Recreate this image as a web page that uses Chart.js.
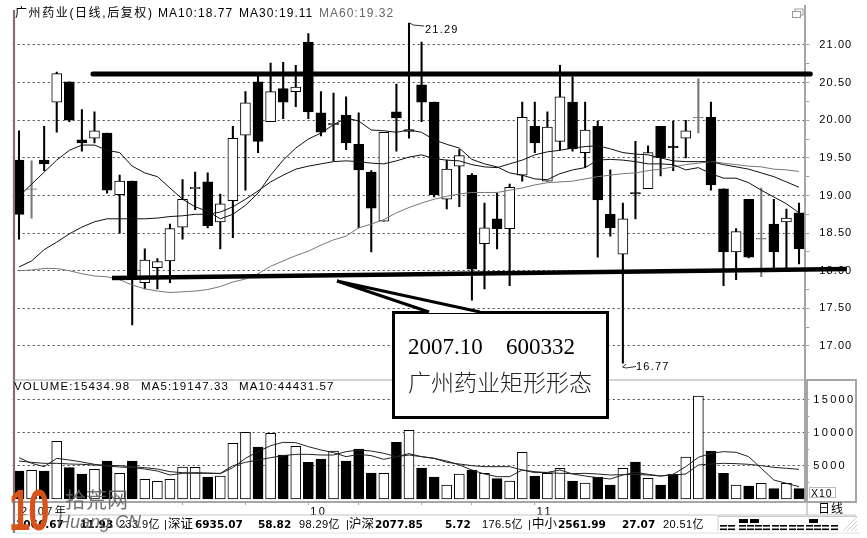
<!DOCTYPE html>
<html lang="zh">
<head>
<meta charset="utf-8">
<title>广州药业矩形形态</title>
<script src="https://cdn.jsdelivr.net/npm/chart.js@4"></script>
<style>
html,body{margin:0;padding:0;background:#fff;width:867px;height:538px;overflow:hidden}
#stage{position:relative;width:867px;height:538px;overflow:hidden;font-family:"Liberation Sans","Noto Sans CJK SC",sans-serif;color:#000}
canvas{position:absolute;left:0}
#priceChart{top:0}
#volumeChart{top:380px}
.t{position:absolute;white-space:pre;line-height:1;transform:translateY(-50%)}
svg{position:absolute;left:0;top:0}
</style>
</head>
<body>
<div id="stage">
<canvas id="priceChart" width="867" height="380"></canvas>
<canvas id="volumeChart" width="867" height="158"></canvas>
<svg id="overlay" width="867" height="538"></svg>
</div>
<script>
const opens  = [19.47,19.08,19.47,20.24,20.51,19.74,19.76,19.83,19.01,19.19,17.84,18.04,18.13,18.58,19.09,19.18,18.65,18.93,19.80,20.51,19.98,20.42,20.38,21.04,20.10,19.94,20.07,19.68,19.31,18.66,20.11,19.85,20.47,20.24,18.95,19.39,19.27,18.36,18.69,18.56,19.27,19.92,19.19,19.72,20.24,19.57,19.92,18.75,18.22,19.04,19.09,19.92,19.655,19.76,20.03,20.04,19.09,18.25,18.95,18.42,18.62,18.65,18.77];
const closes = [18.75,19.09,19.42,20.62,20.00,19.70,19.86,19.07,19.19,17.92,18.14,18.12,18.56,18.95,19.11,18.60,18.89,19.76,20.23,19.72,20.38,20.24,20.44,20.11,19.84,19.96,19.70,19.34,18.83,19.84,20.03,19.875,20.24,19.01,19.35,19.53,18.02,18.57,18.56,19.11,20.04,19.70,19.91,20.31,19.62,19.87,18.94,18.57,18.69,19.02,19.57,19.50,19.635,19.86,20.04,19.14,18.25,18.52,18.18,18.43,18.25,18.70,18.29];
const highs  = [19.86,19.46,19.92,20.64,20.51,20.14,20.11,19.83,19.27,19.19,18.29,18.16,18.62,19.21,19.31,19.30,19.02,19.92,20.38,20.59,20.76,20.77,20.73,21.15,20.38,20.36,20.31,20.10,19.33,19.84,20.48,21.29,21.04,20.24,19.47,19.61,19.29,18.90,19.03,19.15,20.24,20.24,20.11,20.73,20.58,20.24,19.99,19.34,18.90,19.72,19.66,19.92,19.99,20.00,20.55,20.24,19.09,18.56,18.95,19.10,18.95,18.82,18.90];
const lows   = [18.42,18.70,19.33,19.84,19.98,19.59,19.70,19.03,18.50,17.28,17.76,17.76,17.84,18.42,18.81,18.57,18.29,18.44,19.07,19.57,19.98,20.02,20.18,20.02,19.79,19.46,19.61,18.57,18.25,18.66,19.59,19.76,19.98,18.98,18.82,18.85,17.61,17.76,18.29,17.80,19.19,19.57,19.19,19.61,19.59,19.37,18.18,18.46,16.77,18.69,19.09,19.26,19.33,19.50,19.83,19.07,17.80,17.88,18.17,17.92,18.04,18.04,18.09];
const ma10   = [18.99,19.15,19.31,19.47,19.60,19.67,19.67,19.60,19.57,19.39,19.30,19.25,19.10,18.95,18.85,18.79,18.69,18.75,18.87,19.03,19.27,19.47,19.63,19.75,19.83,19.94,20.03,19.99,19.87,19.86,19.84,19.87,19.84,19.74,19.68,19.63,19.48,19.42,19.38,19.30,19.27,19.22,19.21,19.29,19.34,19.37,19.47,19.48,19.47,19.45,19.42,19.42,19.41,19.34,19.37,19.29,19.23,19.23,19.17,19.07,18.98,18.89,18.77];
const ma30   = [18.05,18.13,18.28,18.38,18.49,18.58,18.65,18.69,18.69,18.69,18.69,18.70,18.72,18.73,18.75,18.75,18.78,18.85,18.95,19.06,19.18,19.27,19.35,19.39,19.42,19.45,19.46,19.45,19.43,19.42,19.46,19.51,19.54,19.49,19.47,19.46,19.41,19.38,19.37,19.42,19.47,19.54,19.58,19.60,19.63,19.65,19.66,19.62,19.57,19.55,19.54,19.50,19.46,19.45,19.45,19.45,19.41,19.38,19.35,19.30,19.25,19.18,19.11];
const ma60   = [18.00,18.01,18.03,18.03,18.00,17.96,17.93,17.92,17.88,17.81,17.76,17.73,17.71,17.72,17.73,17.75,17.79,17.85,17.89,17.96,18.06,18.13,18.20,18.26,18.34,18.41,18.46,18.57,18.62,18.68,18.77,18.84,18.90,18.95,18.99,19.02,19.04,19.04,19.04,19.07,19.10,19.14,19.17,19.18,19.19,19.22,19.25,19.27,19.29,19.30,19.33,19.35,19.38,19.41,19.43,19.45,19.43,19.41,19.39,19.38,19.35,19.34,19.32];
const volumes = [4242,4343,4242,8737,4747,3788,4495,5757,3889,5757,2980,2677,2980,4848,4798,3333,3485,8434,10100,7878,9949,6666,7979,5555,6060,7272,5757,7575,3939,3889,8585,10403,4697,3333,2121,3788,4393,3889,3080,2727,7070,3485,3889,4646,2727,2424,3333,2121,4646,5605,3131,2121,3788,6363,15605,7272,3889,2121,1970,2374,1566,2374,1566];
const volMa5  = [6262,5404,4899,6161,5909,5606,5252,5000,4848,4747,4545,4242,3636,3889,3990,3939,3838,4747,6161,7171,8080,8585,8535,7929,7424,7020,6414,6767,6565,6010,6414,6868,6414,6161,5757,5151,4394,3788,3384,3384,4394,3990,4040,4394,3788,3485,3232,3030,3636,4040,3737,3485,3737,4899,6313,6919,7171,7070,6414,4646,2879,2374,1869];
const volMa10 = [5757,5555,5404,5404,5303,5252,5151,5101,5050,4899,4747,4545,4141,3990,3889,3889,3889,5050,5555,5909,6262,6565,6767,6767,6666,6666,7171,7424,7272,6919,6414,6666,6414,6161,5555,5303,5050,4899,4899,4899,4394,4141,3990,3889,3838,3889,3788,3636,3687,3737,3636,3485,3636,3788,5151,5303,5404,5353,5252,5050,4798,4646,4495];
const priceTicks = [17,17.25,17.5,17.75,18,18.25,18.5,18.75,19,19.25,19.5,19.75,20,20.25,20.5,20.75,21];
const volumeTicks = [2500,5000,7500,10000,12500,15000];
const dateTicks = [0,13,18,23,27,32,36,41];
const dateLabels = {0:'2007年',23:'10',41:'11'};
const categories = opens.map((_, i) => 'D' + (i + 1));
const resistance = [{x:5.88,y:20.615},{x:62.9,y:20.615}];
const support = [{x:7.39,y:17.904},{x:65.8,y:18.023}];

const BLACK = '#000', GRAY = '#777777', AXIS = '#a6a6a6', GRID = '#4a4a4a';
const isDoji = i => Math.abs(opens[i] - closes[i]) < 0.015;
const isUp = i => closes[i] >= opens[i];

const spaced = gap => ({id:'spaced', beforeDraw(c){ c.ctx.letterSpacing = gap; }});
const tickFont = {family:'"Liberation Sans","Noto Sans CJK SC",sans-serif', size:11};
const noMargins = s => { s.paddingTop = s.paddingBottom = s.paddingLeft = s.paddingRight = 0; };

function rightAxis(min, max, ticks, labelled, padding){
  return {
    position:'right', min, max,
    afterBuildTicks(s){ s.ticks = ticks.map(v => ({value:v})); },
    afterFit(s){ s.width = 61.7; noMargins(s); },
    border:{display:true, color:AXIS, width:2, dash:[2,3]},
    grid:{
      color:c => labelled(c.tick && c.tick.value) ? GRID : 'rgba(0,0,0,0)',
      tickColor:AXIS, tickLength:4, tickBorderDash:[], drawTicks:true, lineWidth:1
    },
    ticks:{
      color:'#000', font:tickFont, padding,
      callback:(v) => labelled(v) ? (max > 100 ? String(v) : v.toFixed(2)) : ''
    }
  };
}

new Chart(document.getElementById('priceChart'), {
  type:'bar',
  plugins:[spaced('1.1px')],
  data:{
    labels:categories,
    datasets:[
      {type:'line', data:resistance, xAxisID:'xLine', borderColor:BLACK, borderWidth:5, pointRadius:0, borderCapStyle:'round', order:0, clip:false},
      {type:'line', data:support, xAxisID:'xLine', borderColor:BLACK, borderWidth:4.5, pointRadius:0, borderCapStyle:'butt', order:0, clip:false},
      {type:'line', data:ma10, borderColor:'#111', borderWidth:1, pointRadius:0, tension:0, order:1},
      {type:'line', data:ma30, borderColor:'#111', borderWidth:1, pointRadius:0, tension:0, order:1},
      {type:'line', data:ma60, borderColor:GRAY, borderWidth:1, pointRadius:0, tension:0, order:1},
      {data:opens.map((o,i) => [Math.min(o,closes[i]), Math.max(o,closes[i])]),
       backgroundColor:opens.map((_,i) => isDoji(i) ? GRAY : isUp(i) ? '#fff' : BLACK),
       borderColor:opens.map((_,i) => isDoji(i) ? GRAY : BLACK),
       borderWidth:1, borderSkipped:false, barThickness:10, grouped:false, order:2},
      {data:lows.map((l,i) => [l, highs[i]]),
       backgroundColor:opens.map((_,i) => isDoji(i) ? GRAY : BLACK),
       borderWidth:0, barThickness:1.4, grouped:false, order:3}
    ]
  },
  options:{
    responsive:false, animation:false,
    layout:{padding:{left:12.7, right:0, top:6, bottom:0}},
    plugins:{legend:{display:false}, tooltip:{enabled:false}},
    scales:{
      x:{display:false, offset:true, grid:{display:false}},
      xLine:{type:'linear', display:false, offset:false, min:-0.5, max:62.5},
      y:rightAxis(16.548, 21.518, priceTicks, v => Number.isInteger(v*2), 10)
    }
  }
});

new Chart(document.getElementById('volumeChart'), {
  type:'bar',
  plugins:[spaced('2.3px')],
  data:{
    labels:categories,
    datasets:[
      {type:'line', data:volMa5, borderColor:'#222', borderWidth:1, pointRadius:0, tension:0, order:0},
      {type:'line', data:volMa10, borderColor:'#222', borderWidth:1, pointRadius:0, tension:0, order:0},
      {data:volumes,
       backgroundColor:opens.map((_,i) => isUp(i) ? '#fff' : BLACK),
       borderColor:BLACK, borderWidth:1, borderSkipped:false, barThickness:10, grouped:false, order:1}
    ]
  },
  options:{
    responsive:false, animation:false,
    layout:{padding:{left:12.7, right:0, top:0, bottom:0}},
    plugins:{legend:{display:false}, tooltip:{enabled:false}},
    scales:{
      x:{
        offset:true,
        afterBuildTicks(s){ s.ticks = dateTicks.map(v => ({value:v})); },
        afterFit(s){ s.height = 36; noMargins(s); },
        border:{color:AXIS, width:2},
        grid:{drawOnChartArea:false, drawTicks:true, tickLength:3, offset:false, tickColor:c => c.tick && c.tick.value === 0 ? 'rgba(0,0,0,0)' : AXIS},
        ticks:{autoSkip:false, maxRotation:0, align:'start', labelOffset:2, padding:0, color:'#000', font:tickFont,
          callback:(v) => dateLabels[v] || ''}
      },
      y:rightAxis(-455, 18030, volumeTicks, v => v % 5000 === 0, 4)
    }
  }
});

/* ---------- annotation overlay (not data) ---------- */
const NS = 'http://www.w3.org/2000/svg';
const svg = document.getElementById('overlay');
function el(name, attrs){ const e = document.createElementNS(NS, name); for (const k in attrs) e.setAttribute(k, attrs[k]); svg.appendChild(e); return e; }
const stage = document.getElementById('stage');
function label(text, x, y, css){ const d = document.createElement('div'); d.className = 't'; d.textContent = text; d.style.cssText = `left:${x}px;top:${y}px;` + (css || ''); stage.appendChild(d); return d; }

// frame
el('line',{x1:14,y1:10,x2:14,y2:533,stroke:'#856f6f','stroke-width':2.2});
el('line',{x1:14,y1:380,x2:856,y2:380,stroke:AXIS,'stroke-width':1});
el('rect',{x:807,y:380,width:49,height:122,fill:'none',stroke:AXIS,'stroke-width':2});
el('line',{x1:14,y1:515,x2:856,y2:515,stroke:'#c4c4c4','stroke-width':1});
el('line',{x1:807,y1:502,x2:807,y2:515,stroke:AXIS,'stroke-width':1});
el('line',{x1:14,y1:533,x2:860,y2:533,stroke:'#e0e0e0','stroke-width':1});
// window icon
el('rect',{x:795,y:9,width:8,height:6,fill:'#fff',stroke:'#999','stroke-width':1});
el('rect',{x:792.5,y:11.5,width:8,height:6,fill:'#fff',stroke:'#999','stroke-width':1});
// high / low pointers
el('polyline',{points:'410,23 413,25 424,26',fill:'none',stroke:'#333','stroke-width':1});
el('polyline',{points:'626,364 622.5,367 626,368 636,366.5',fill:'none',stroke:'#333','stroke-width':1});
// call-out
el('rect',{x:393.5,y:312.5,width:214,height:105,fill:'#fff',stroke:'#000','stroke-width':3});
el('polygon',{points:'429,313 337,281 480,313',fill:'#fff',stroke:'none'});
el('polyline',{points:'429,312 337,281 480,312',fill:'none',stroke:'#000','stroke-width':3,'stroke-linejoin':'miter'});
// X10 box
el('rect',{x:809.5,y:487.5,width:26,height:10,fill:'#fff',stroke:'#bbb','stroke-width':1});
// market-state mini bars
el('path',{d:'M718 531V516.5H857',fill:'none',stroke:'#c8c8c8','stroke-width':1});
const stateDashes = [720,728,739,747,755,763,772,780,789,797,806,814,822,831];
stateDashes.forEach(x => { el('rect',{x,y:525,width:7,height:1.6,fill:'#000'}); el('rect',{x,y:528.5,width:7,height:1.6,fill:'#000'}); });
[[739,9],[750,9],[809,9]].forEach(([x,w]) => el('rect',{x,y:519,width:w,height:4,fill:'#000'}));
// size grip
[0,4,8,12].forEach(d => el('line',{x1:843+d,y1:531,x2:857,y2:517+d,stroke:'#ccc','stroke-width':1}));

// captions
const cap = 'font-size:12px;letter-spacing:1.05px;';
label('广州药业(日线,后复权)', 15, 13, 'font-size:12px;letter-spacing:1.6px;');
label('MA10:18.77', 158, 13, cap);
label('MA30:19.11', 239, 13, cap);
label('MA60:19.32', 319, 13, cap + 'color:#666;');
label('21.29', 425, 29, 'font-size:11px;letter-spacing:1.2px;');
label('16.77', 636, 366, 'font-size:11px;letter-spacing:1.2px;');
const vcap = 'font-size:11.5px;letter-spacing:1.1px;';
label('VOLUME:15434.98', 14, 387, vcap);
label('MA5:19147.33', 141, 387, vcap);
label('MA10:44431.57', 239, 387, vcap);
label('X10', 811, 492.5, 'font-size:10.5px;letter-spacing:1px;');
label('日线', 818, 509, 'font-size:12px;letter-spacing:1px;');
label('2007.10', 408, 346, 'font-family:"Liberation Serif",serif;font-size:23px;');
label('600332', 506, 346, 'font-family:"Liberation Serif",serif;font-size:23px;');
label('广州药业矩形形态', 408, 381, 'font-family:"Noto Sans CJK SC",sans-serif;font-weight:300;font-size:23px;color:#222;');

// status bar
const bold = 'font-family:"DejaVu Sans",sans-serif;font-weight:700;font-size:10.5px;';
const thin = 'font-size:11px;letter-spacing:.4px;';
[['2066.67',16,bold],['11.93',80,bold],['233.9亿',119,thin],['|',164,thin],['深证',168,'font-size:12.5px;'],['6935.07',195,bold],['58.82',258,bold],['98.29亿',299,thin],['|',346,thin],
 ['沪深',349,'font-size:12.5px;'],['2077.85',375,bold],['5.72',445,bold],['176.5亿',482,thin],['|',528,thin],['中小',532,'font-size:12.5px;'],['2561.99',558,bold],['27.07',622,bold],['20.51亿',663,thin]]
 .forEach(([t,x,c]) => label(t, x, 524, c));

// watermark
label('10', 9, 510, 'font-family:"Liberation Sans",sans-serif;font-weight:700;font-size:58px;letter-spacing:-3px;color:#d8531c;transform:translateY(-50%) scaleX(.66);transform-origin:left center;');
label('拾荒网', 65, 498, 'font-family:"Noto Sans CJK SC",sans-serif;font-size:21px;color:rgba(100,100,100,.9);');
label('Huang.CN', 57, 522, 'font-size:18px;font-style:italic;color:rgba(90,90,90,.85);');
</script>
</body>
</html>
